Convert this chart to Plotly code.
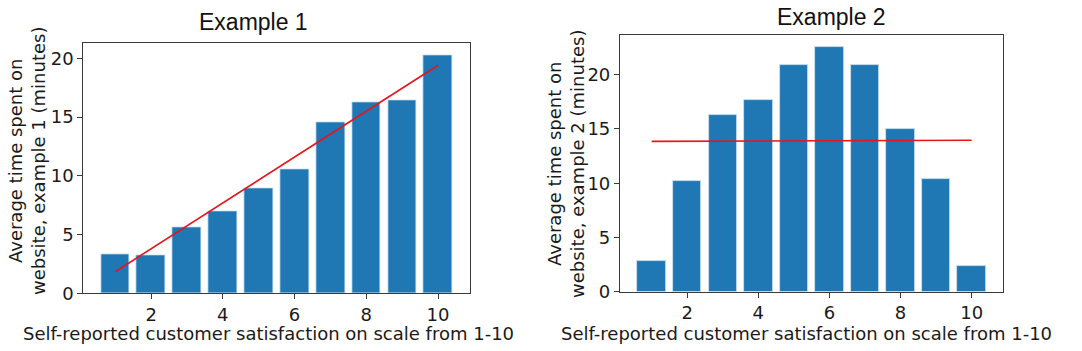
import numpy as np
import plotly.graph_objects as go

# ---- data ----
satisfaction = [1, 2, 3, 4, 5, 6, 7, 8, 9, 10]
time_example1 = [3.31, 3.24, 5.65, 7.01, 8.91, 10.58, 14.57, 16.27, 16.38, 20.26]
time_example2 = [2.86, 10.16, 16.31, 17.64, 20.90, 22.53, 20.90, 14.99, 10.43, 2.34]
x_tick_vals = [2, 4, 6, 8, 10]
y_tick_vals = [0, 5, 10, 15, 20]
titles = ["Example 1", "Example 2"]
x_label = "Self-reported customer satisfaction on scale from 1-10"
y_labels = ["Average time spent on<br>website, example 1 (minutes)",
            "Average time spent on<br>website, example 2 (minutes)"]

W, H = 1082, 351
BLUE = "#1f77b4"
FRAME = "#3a3a3a"
TICKFONT = dict(family="DejaVu Sans", size=18, color="#1a1a1a")


def px_x(p):
    return p / W


def px_y(p):
    return (H - p) / H


fig = go.Figure()

for i, ys in enumerate([time_example1, time_example2]):
    xa = "x" if i == 0 else "x2"
    ya = "y" if i == 0 else "y2"
    fig.add_trace(go.Bar(
        x=satisfaction, y=ys, width=0.8, xaxis=xa, yaxis=ya,
        marker=dict(color=BLUE, line=dict(color="#cfe3f3", width=0.8)),
        showlegend=False,
    ))
    slope, intercept = np.polyfit(satisfaction, ys, 1)
    xs = [satisfaction[0], satisfaction[-1]]
    fig.add_trace(go.Scatter(
        x=xs, y=[slope * v + intercept for v in xs], mode="lines",
        line=dict(color="#e8141c", width=1.6), xaxis=xa, yaxis=ya,
        showlegend=False,
    ))

axis_common = dict(showline=True, mirror=True, linecolor=FRAME, linewidth=1.2,
                   ticks="outside", ticklen=5, tickwidth=1.2, tickcolor=FRAME,
                   showgrid=False, zeroline=False, tickfont=TICKFONT,
                   automargin=False)

fig.update_layout(
    width=W, height=H,
    margin=dict(l=0, r=0, t=0, b=0, autoexpand=False),
    paper_bgcolor="white", plot_bgcolor="white",
    bargap=0,
    xaxis=dict(domain=[px_x(83.3), px_x(470)], range=[0.11, 10.89],
               tickvals=x_tick_vals, anchor="y", **axis_common),
    yaxis=dict(domain=[px_y(293.3), px_y(43.3)], range=[0, 21.27],
               tickvals=y_tick_vals, anchor="x", **axis_common),
    xaxis2=dict(domain=[px_x(620), px_x(1003.3)], range=[0.11, 10.89],
                tickvals=x_tick_vals, anchor="y2", **axis_common),
    yaxis2=dict(domain=[px_y(291.7), px_y(35)], range=[0, 23.66],
                tickvals=y_tick_vals, anchor="x2", **axis_common),
)

ann = []
title_font = dict(family="Liberation Sans, Arial", size=23, color="#111")
label_font = dict(family="DejaVu Sans", size=18, color="#1a1a1a")
ann.append(dict(text=titles[0], x=px_x(253), y=px_y(22), xref="paper", yref="paper",
                showarrow=False, font=title_font, xanchor="center", yanchor="middle"))
ann.append(dict(text=titles[1], x=px_x(831), y=px_y(17), xref="paper", yref="paper",
                showarrow=False, font=title_font, xanchor="center", yanchor="middle"))
ann.append(dict(text=x_label, x=px_x(268), y=px_y(333), xref="paper", yref="paper",
                showarrow=False, font=label_font, xanchor="center", yanchor="middle"))
ann.append(dict(text=x_label, x=px_x(806), y=px_y(333), xref="paper", yref="paper",
                showarrow=False, font=label_font, xanchor="center", yanchor="middle"))
ann.append(dict(text=y_labels[0], x=px_x(27), y=px_y(161), xref="paper", yref="paper",
                showarrow=False, font=label_font, textangle=-90,
                xanchor="center", yanchor="middle"))
ann.append(dict(text=y_labels[1], x=px_x(566), y=px_y(164), xref="paper", yref="paper",
                showarrow=False, font=label_font, textangle=-90,
                xanchor="center", yanchor="middle"))
fig.update_layout(annotations=ann)

fig.write_html("out.html")
